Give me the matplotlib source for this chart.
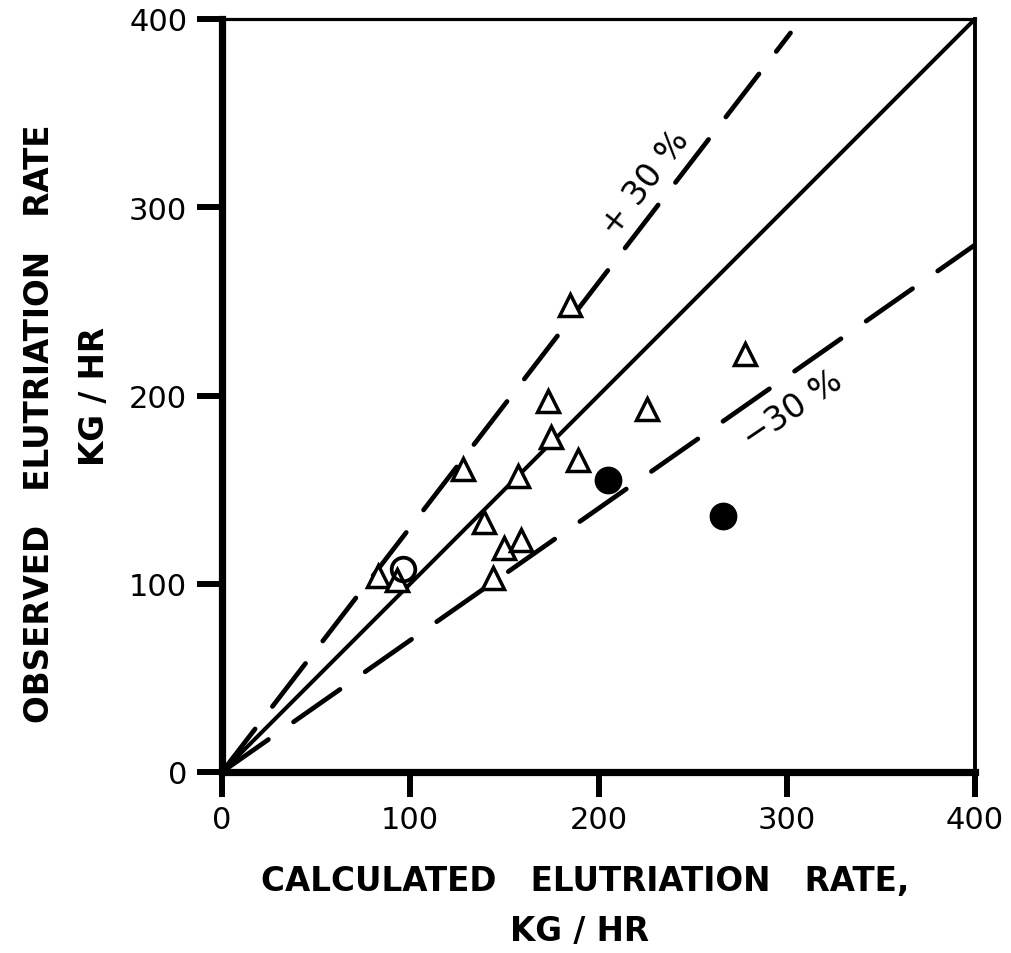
import matplotlib
matplotlib.use("Agg")
import matplotlib.pyplot as plt
import numpy as np

# Data
tri_x = [83, 93, 128, 139, 157, 175, 173, 150, 159, 144, 189, 278, 226, 185]
tri_y = [104, 102, 161, 133, 157, 178, 197, 119, 123, 103, 166, 222, 193, 248]
open_circ_x = [96]
open_circ_y = [108]
fill_circ_x = [205, 266]
fill_circ_y = [155, 136]

ticks = [0, 100, 200, 300, 400]
line_x = [0, 400]
plus_x = [0, 302]
minus_x = [0, 400]
plus_factor = 1.3
minus_factor = 0.7

fig = plt.figure(figsize=(10.12, 9.54), dpi=100)
ax = fig.add_axes([222/1012, 1-773/954, 753/1012, 753/954])
ax.set_xlim(0, 400)
ax.set_ylim(0, 400)

ax.plot(line_x, line_x, color="black", lw=2.9, solid_capstyle="round")
ax.plot(plus_x, [plus_factor*v for v in plus_x], color="black", lw=3.4,
        dashes=(11.5, 6.0), dash_capstyle="round")
ax.plot(minus_x, [minus_factor*v for v in minus_x], color="black", lw=3.4,
        dashes=(12, 6.5), dash_capstyle="round")

ax.plot(tri_x, tri_y, linestyle="none", marker="^", ms=16, mfc="white",
        mec="black", mew=2.5, zorder=5)
ax.plot(open_circ_x, open_circ_y, linestyle="none", marker="o", ms=17,
        mfc="none", mec="black", mew=2.7, zorder=6)
ax.plot(fill_circ_x, fill_circ_y, linestyle="none", marker="o", ms=19,
        mfc="black", mec="black", zorder=6)

ax.text(225, 313, "+ 30 %", rotation=52.4, ha="center", va="center",
        fontsize=24, rotation_mode="anchor")
ax.text(303, 193, "−30 %", rotation=34, ha="center", va="center",
        fontsize=24, rotation_mode="anchor")

ax.set_xticks(ticks)
ax.set_yticks(ticks)
ax.set_xticklabels([str(t) for t in ticks], fontsize=22)
ax.set_yticklabels([str(t) for t in ticks], fontsize=22)
ax.tick_params(direction="out", length=18, width=4.3, pad=6)
ax.tick_params(axis="y", pad=7)

ax.spines["left"].set_linewidth(5.2)
ax.spines["bottom"].set_linewidth(5.2)
ax.spines["top"].set_linewidth(2.3)
ax.spines["right"].set_linewidth(2.8)

fig.text(585/1012, 1-881/954, "CALCULATED   ELUTRIATION   RATE,", ha="center",
         va="center", fontsize=23.5, fontweight="bold")
fig.text(580/1012, 1-932/954, "KG / HR", ha="center", va="center",
         fontsize=23.5, fontweight="bold")
fig.text(40/1012, 1-424/954, "OBSERVED   ELUTRIATION   RATE", ha="center",
         va="center", rotation=90, fontsize=23.5, fontweight="bold")
fig.text(95/1012, 1-397/954, "KG / HR", ha="center", va="center",
         rotation=90, fontsize=23.5, fontweight="bold")

fig.savefig("out.png", dpi=100, facecolor="white")
